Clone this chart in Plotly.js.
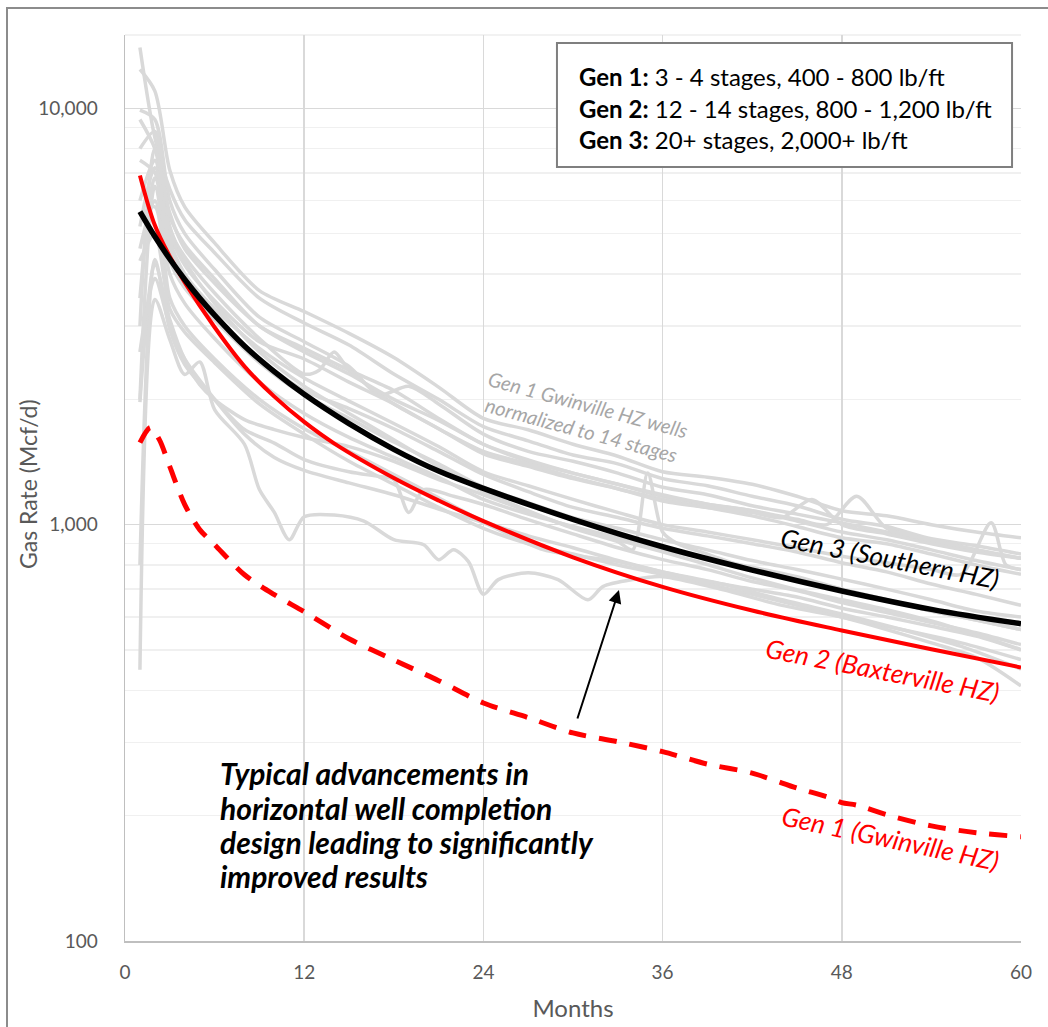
<!DOCTYPE html>
<html>
<head>
<meta charset="utf-8">
<script src="https://cdn.plot.ly/plotly-3.0.1.min.js"></script>
<style>html,body{margin:0;padding:0;background:#fff;}#chart{width:1048px;height:1027px;}</style>
</head>
<body>
<div id="chart"></div>
<script>
// ---------- data ----------
const monthsCommon = [1,2,3,4,6,9,12,15,18,21,24,27,30,33,36,39,42,45,48,51,54,57,60];

const well01 = [14000,8500,6400,5400,4500,3500,3050,2700,2300,2000,1720,1590,1470,1400,1290,1240,1170,1110,1030,990,925,890,850];
const well02 = [12400,11000,7100,5800,4750,3650,3250,2880,2520,2140,1800,1690,1560,1460,1340,1300,1250,1170,1080,1050,1000,960,930];
const well03Months = [1,2,3,4,6,9,12,15,17,19,21,24,27,30,33,36,39,42,45,48,51,54,57,60];
const well03 = [9900,9400,6000,5000,4100,3150,2750,2400,2050,2150,1950,1650,1500,1420,1330,1230,1180,1110,1060,1010,960,910,870,830];
const well04 = [9400,8000,5500,4700,3900,3000,2650,2350,2100,1800,1560,1420,1330,1250,1170,1120,1080,1020,960,920,870,820,780];
const well05Months = [1,2,3,4,6,9,12,15,18,21,24,27,30,33,34,35,36,37,39,42,45,48,51,54,57,60];
const well05 = [8000,8800,5200,4300,3400,2600,2150,1850,1600,1380,1200,1080,980,910,870,1330,960,900,850,780,740,700,660,620,590,560];
const well06Months = [1,2,3,4,6,9,12,13,14,15,18,21,24,27,30,33,36,39,42,45,48,51,54,57,60];
const well06 = [7500,7000,5100,4400,3600,2800,2300,2350,2600,2350,1950,1700,1480,1380,1290,1220,1150,1100,1050,990,930,900,850,800,760];
const well07 = [6000,7500,4600,3900,3200,2500,2100,1900,1700,1500,1320,1200,1100,1040,980,940,900,860,810,770,720,680,640];
const well08 = [4600,6000,4000,3400,2800,2200,1850,1620,1450,1300,1150,1060,990,930,870,830,790,750,700,660,620,590,560];
const well09 = [2000,6500,4300,3700,3100,2450,2050,1800,1580,1400,1230,1130,1040,980,920,870,820,780,740,700,660,620,600];
const well10Months = [1,2,3,4,6,9,12,15,18,21,24,27,30,33,36,39,42,45,47,49,51,54,57,60];
const well10 = [3000,8000,5600,4600,3800,3000,2600,2300,2000,1780,1560,1430,1330,1250,1180,1120,1080,1030,1000,1170,980,920,870,830];
const well11Months = [1,2,3,4,6,9,12,15,18,21,24,27,30,33,36,39,42,44,46,48,51,54,57,60];
const well11 = [5200,7200,5000,4200,3450,2750,2500,2200,1950,1700,1500,1400,1300,1220,1140,1100,1070,1040,1150,1000,950,900,860,830];
const well12Months = [1,2,3,4,6,9,12,15,18,21,24,27,30,33,36,39,42,45,48,51,54,56,58,59,60];
const well12 = [3500,6800,4800,4000,3300,2650,2250,1980,1750,1540,1340,1240,1150,1070,1000,960,920,880,840,810,780,760,1010,800,780];
const well13 = [5500,5800,3500,3000,2500,2000,1700,1500,1320,1160,1020,940,880,820,770,730,700,670,630,600,570,540,500];
const well14 = [4300,5000,3300,2900,2450,1950,1650,1420,1250,1100,980,900,850,800,760,720,680,640,600,560,520,480,410];
const well15Months = [1,2,3,4,5,6,8,9,10,11,12,14,16,18,20,21,22,23,24,25,27,29,31,32,34,36,40,44,48,52,56,60];
const well15 = [448,3475,2784,2294,2460,1890,1560,1214,1070,920,1045,1055,1020,920,895,824,871,815,680,738,766,738,660,710,738,750,698,640,600,560,520,474];
const well16Months = [1,2,3,4,6,8,10,12,15,17,18,19,20,22,24,27,30,33,36,39,42,45,48,51,54,57,60];
const well16 = [800,4335,2943,2425,1998,1692,1570,1433,1340,1305,1283,1070,1214,1170,1118,1028,950,880,824,780,730,695,650,615,582,550,515];
const well17Months = [1,2,3,4,5,6,8,10,12,15,18,21,24,27,30,33,36,39,42,45,48,51,54,57,60];
const well17 = [1970,4220,3110,2492,2170,1998,1788,1692,1620,1540,1420,1283,1180,1075,985,920,860,802,745,698,660,625,587,544,501];
const well18Months = [1,2,3,4,6,8,10,12,15,18,21,24,28,33,36,40,44,48,52,56,60];
const well18 = [2600,3900,3000,2500,2000,1650,1450,1350,1260,1180,1090,1010,871,815,770,720,660,610,560,510,450];

const gen3Months = [1,2,3,4,5,6,8,10,12,15,18,21,24,30,36,42,48,54,60];
const gen3Rate = [5650,4920,4345,3880,3500,3185,2685,2330,2056,1748,1517,1345,1222,1030,885,778,693,626,578];
const gen2Months = [1,2,3,4,6,8,10,12,14,18,21,24,30,36,42,48,54,60];
const gen2Rate = [6900,5236,4406,3819,2979,2400,2030,1765,1568,1294,1143,1020,835,709,622,557,502,454];
const gen1Months = [1,1.7,2.3,3,4,5,6,8,10,12,15,18,21,24,27,30,33,36,39,42,45,47,48,49,51,54,57,60];
const gen1Rate = [1574,1711,1600,1378,1117,973,895,758,679,618,532,473,422,373,344,316,301,285,266,253,233,222,215,212,201,189,182,178];

const yTickVals = [100, 1000, 10000];
const legendLines = [
  ['Gen 1:', ' 3 - 4 stages, 400 - 800 lb/ft'],
  ['Gen 2:', ' 12 - 14 stages, 800 - 1,200 lb/ft'],
  ['Gen 3:', ' 20+ stages, 2,000+ lb/ft']
];
const noteLines = ['Typical advancements in','horizontal well completion','design leading to significantly','improved results'];

// ---------- traces ----------
const wells = [
  [monthsCommon, well01],[monthsCommon, well02],[well03Months, well03],[monthsCommon, well04],
  [well05Months, well05],[well06Months, well06],[monthsCommon, well07],[monthsCommon, well08],
  [monthsCommon, well09],[well10Months, well10],[well11Months, well11],[well12Months, well12],
  [monthsCommon, well13],[monthsCommon, well14],[well15Months, well15],[well16Months, well16],
  [well17Months, well17],[well18Months, well18]
];
const FONT = 'Lato, "Open Sans", sans-serif';
const traces = wells.map(w => ({
  x: w[0], y: w[1], type: 'scatter', mode: 'lines',
  line: {color: '#d9d9d9', width: 3.5, shape: 'spline', smoothing: 0.8},
  hoverinfo: 'skip', showlegend: false
}));
traces.push({x: gen1Months, y: gen1Rate, type: 'scatter', mode: 'lines',
  line: {color: '#ff0000', width: 5, dash: '18px,13px', shape: 'spline', smoothing: 0.8}, showlegend: false});
traces.push({x: gen2Months, y: gen2Rate, type: 'scatter', mode: 'lines',
  line: {color: '#ff0000', width: 4, shape: 'spline', smoothing: 1}, showlegend: false});
traces.push({x: gen3Months, y: gen3Rate, type: 'scatter', mode: 'lines',
  line: {color: '#000000', width: 5.5, shape: 'spline', smoothing: 1}, showlegend: false});

// ---------- annotations ----------
const ann = [];
const legY = [0.9547, 0.9194, 0.8852];
legendLines.forEach((l, i) => ann.push({
  xref: 'paper', yref: 'paper', x: 0.5045, y: legY[i], xanchor: 'left', yanchor: 'middle',
  text: '<b>' + l[0] + '</b>' + l[1], showarrow: false,
  font: {family: FONT, size: 24, color: '#000'}
}));
const noteY = [0.1854, 0.1468, 0.1093, 0.0717];
noteLines.forEach((t, i) => ann.push({
  xref: 'paper', yref: 'paper', x: 0.1038, y: noteY[i], xanchor: 'left', yanchor: 'middle',
  text: '<b><i>' + t + '</i></b>', showarrow: false,
  font: {family: FONT, size: 30, color: '#000'}
}));
ann.push({xref: 'paper', yref: 'paper', x: -0.1083, y: 0.5044, xanchor: 'center', yanchor: 'middle', textangle: -90,
  text: 'Gas Rate (Mcf/d)', showarrow: false, font: {family: FONT, size: 23, color: '#595959'}});
ann.push({xref: 'paper', yref: 'paper', x: 0.5134, y: 0.5784, xanchor: 'center', yanchor: 'middle', textangle: 15,
  text: '<i>Gen 1 Gwinville HZ wells<br>normalized to 14 stages</i>', showarrow: false,
  font: {family: FONT, size: 20, color: '#a6a6a6'}});
ann.push({xref: 'paper', yref: 'paper', x: 0.8538, y: 0.4227, xanchor: 'center', yanchor: 'middle', textangle: 11,
  text: '<i>Gen 3 (Southern HZ)</i>', showarrow: false, font: {family: FONT, size: 26, color: '#000'}});
ann.push({xref: 'paper', yref: 'paper', x: 0.8449, y: 0.2991, xanchor: 'center', yanchor: 'middle', textangle: 11,
  text: '<i>Gen 2 (Baxterville HZ)</i>', showarrow: false, font: {family: FONT, size: 26, color: '#ff0000'}});
ann.push({xref: 'paper', yref: 'paper', x: 0.8538, y: 0.1137, xanchor: 'center', yanchor: 'middle', textangle: 12,
  text: '<i>Gen 1 (Gwinville HZ)</i>', showarrow: false, font: {family: FONT, size: 26, color: '#ff0000'}});
ann.push({xref: 'paper', yref: 'paper', x: 0.5513, y: 0.3874, text: '', showarrow: true,
  ax: -42, ay: 130, arrowhead: 2, arrowsize: 1.3, arrowwidth: 2, arrowcolor: '#000'});

// ---------- shapes ----------
const shapes = [
  {type: 'rect', xref: 'paper', yref: 'paper', x0: -0.1317, x1: 1.06, y0: -0.12, y1: 1.0298,
   line: {color: '#8c8c8c', width: 2}, fillcolor: 'rgba(0,0,0,0)', layer: 'below'},
  {type: 'line', xref: 'paper', yref: 'paper', x0: 0, x1: 1, y0: 1, y1: 1,
   line: {color: '#eeeeee', width: 1.5}, layer: 'between'},
  {type: 'rect', xref: 'paper', yref: 'paper', x0: 0.0949, x1: 0.5737, y0: 0.0397, y1: 0.2163,
   line: {width: 0}, fillcolor: '#ffffff', layer: 'between'},
  {type: 'rect', xref: 'paper', yref: 'paper', x0: 0.4821, x1: 0.99, y0: 0.8543, y1: 0.9912,
   line: {color: '#7f7f7f', width: 2}, fillcolor: '#ffffff', layer: 'above'}
];

const layout = {
  width: 1048, height: 1027,
  margin: {l: 125, r: 27, t: 35, b: 86},
  paper_bgcolor: '#ffffff', plot_bgcolor: '#ffffff',
  font: {family: FONT, color: '#595959'},
  showlegend: false,
  xaxis: {
    range: [0, 60], dtick: 12, tick0: 0,
    showgrid: true, gridcolor: '#d9d9d9', gridwidth: 1.5,
    zeroline: false, showline: true, linecolor: '#bfbfbf', linewidth: 1.5,
    ticks: '', ticklabelstandoff: 14,
    tickfont: {family: FONT, size: 19, color: '#595959'},
    title: {text: 'Months', font: {family: FONT, size: 24, color: '#595959'}, standoff: 18}
  },
  yaxis: {
    type: 'log', range: [2, Math.log10(15000)],
    tickmode: 'array', tickvals: yTickVals, tickformat: ',d',
    showgrid: true, gridcolor: '#d9d9d9', gridwidth: 1.5,
    minor: {dtick: 'D1', showgrid: true, gridcolor: '#f0f0f0', gridwidth: 1.5, ticks: ''},
    zeroline: false, showline: true, linecolor: '#bfbfbf', linewidth: 1.5,
    ticks: '', ticklabelstandoff: 22,
    tickfont: {family: FONT, size: 19, color: '#595959'}
  },
  annotations: ann,
  shapes: shapes
};

Plotly.newPlot('chart', traces, layout, {displayModeBar: false, staticPlot: true});
</script>
</body>
</html>
